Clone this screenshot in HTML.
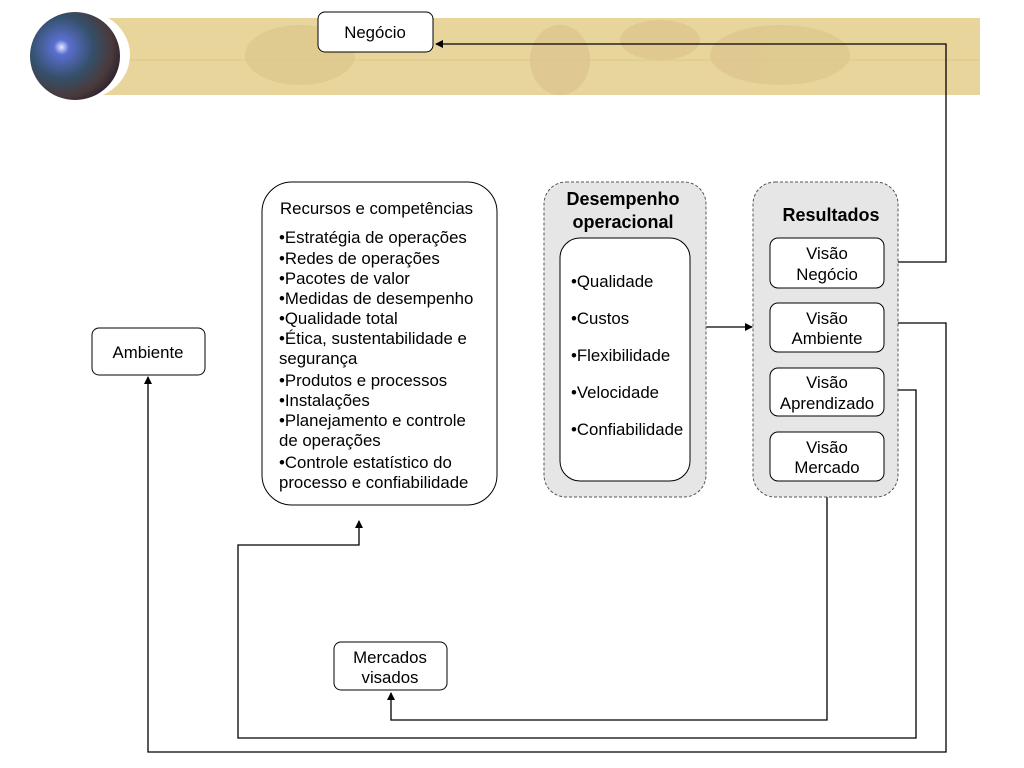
<!DOCTYPE html>
<html><head><meta charset="utf-8"><style>
html,body{margin:0;padding:0;background:#fff;}
svg{display:block;font-family:"Liberation Sans",sans-serif;}
</style></head><body>
<svg width="1024" height="768" viewBox="0 0 1024 768" xmlns="http://www.w3.org/2000/svg">
<defs>
<radialGradient id="g" cx="0.35" cy="0.4" r="0.7">
<stop offset="0" stop-color="#e8eaff"/><stop offset="0.12" stop-color="#5a6fd0"/><stop offset="0.5" stop-color="#34506a"/><stop offset="0.8" stop-color="#4a3a3a"/><stop offset="1" stop-color="#2a2030"/>
</radialGradient>
<marker id="a" markerWidth="8" markerHeight="8" refX="7" refY="4" orient="auto" markerUnits="userSpaceOnUse"><path d="M0,0 L8,4 L0,8 z" fill="#000"/></marker>
</defs>
<rect x="100" y="18" width="880" height="77" fill="#e8d59c"/>
<line x1="100" y1="60" x2="980" y2="60" stroke="#dcc58a" stroke-width="1"/>
<g fill="#dcc48c" opacity="0.7">
<ellipse cx="300" cy="55" rx="55" ry="30"/><ellipse cx="560" cy="60" rx="30" ry="35"/><ellipse cx="780" cy="55" rx="70" ry="30"/><ellipse cx="660" cy="40" rx="40" ry="20"/>
</g>
<ellipse cx="80" cy="55" rx="50" ry="45" fill="#fff"/>
<ellipse cx="75" cy="56" rx="45" ry="44" fill="url(#g)"/>
<g fill="none" stroke="#000" stroke-width="1.3">
<polyline points="884,262 946,262 946,44 436,44" marker-end="url(#a)"/>
<polyline points="884,323 946,323 946,752 148,752 148,377" marker-end="url(#a)"/>
<polyline points="884,390 916,390 916,738 238,738 238,545 359,545 359,521" marker-end="url(#a)"/>
<polyline points="827,481 827,720 391,720 391,693" marker-end="url(#a)"/>
<line x1="706" y1="327" x2="752" y2="327" marker-end="url(#a)"/>
</g>
<g stroke="#000" stroke-width="1" fill="#fff">
<rect x="318" y="12" width="115" height="40" rx="7"/>
<rect x="92" y="328" width="113" height="47" rx="7"/>
<rect x="334" y="642" width="113" height="48" rx="7"/>
<rect x="262" y="182" width="235" height="323" rx="30"/>
</g>
<g stroke="#555" stroke-width="1" stroke-dasharray="3,2" fill="#e6e6e6">
<rect x="544" y="182" width="162" height="315" rx="22"/>
<rect x="753" y="182" width="145" height="315" rx="22"/>
</g>
<g stroke="#000" stroke-width="1" fill="#fff">
<rect x="560" y="238" width="130" height="243" rx="20"/>
<rect x="770" y="238" width="114" height="50" rx="8"/>
<rect x="770" y="303" width="114" height="49" rx="8"/>
<rect x="770" y="368" width="114" height="48" rx="8"/>
<rect x="770" y="432" width="114" height="49" rx="8"/>
</g>
<g font-size="16.8" fill="#000">
<text x="375" y="38" text-anchor="middle">Negócio</text>
<text x="148" y="358" text-anchor="middle">Ambiente</text>
<text x="390" y="663" text-anchor="middle">Mercados</text>
<text x="390" y="683" text-anchor="middle">visados</text>
<text x="280" y="214">Recursos e competências</text>
<text x="279" y="243">•Estratégia de operações</text>
<text x="279" y="264">•Redes de operações</text>
<text x="279" y="284">•Pacotes de valor</text>
<text x="279" y="304">•Medidas de desempenho</text>
<text x="279" y="324">•Qualidade total</text>
<text x="279" y="344">•Ética, sustentabilidade e</text>
<text x="279" y="364">segurança</text>
<text x="279" y="386">•Produtos e processos</text>
<text x="279" y="406">•Instalações</text>
<text x="279" y="426">•Planejamento e controle</text>
<text x="279" y="446">de operações</text>
<text x="279" y="468">•Controle estatístico do</text>
<text x="279" y="488">processo e confiabilidade</text>
<text x="571" y="287">•Qualidade</text>
<text x="571" y="324">•Custos</text>
<text x="571" y="361">•Flexibilidade</text>
<text x="571" y="398">•Velocidade</text>
<text x="571" y="435">•Confiabilidade</text>
<text x="827" y="259" text-anchor="middle">Visão</text>
<text x="827" y="280" text-anchor="middle">Negócio</text>
<text x="827" y="324" text-anchor="middle">Visão</text>
<text x="827" y="344" text-anchor="middle">Ambiente</text>
<text x="827" y="388" text-anchor="middle">Visão</text>
<text x="827" y="409" text-anchor="middle">Aprendizado</text>
<text x="827" y="453" text-anchor="middle">Visão</text>
<text x="827" y="473" text-anchor="middle">Mercado</text>
</g>
<g font-size="18" font-weight="bold" fill="#000" text-anchor="middle">
<text x="623" y="205">Desempenho</text>
<text x="623" y="228">operacional</text>
<text x="831" y="221">Resultados</text>
</g>
</svg>
</body></html>
